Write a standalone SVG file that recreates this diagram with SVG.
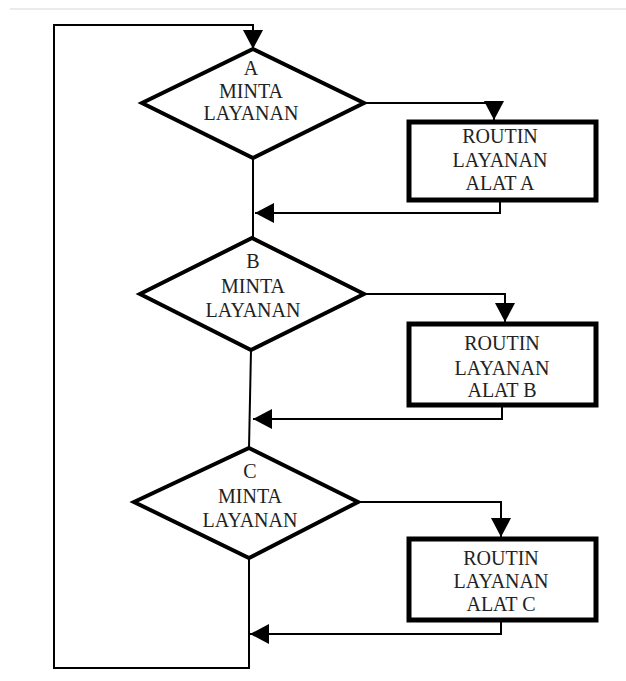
<svg xmlns="http://www.w3.org/2000/svg" width="626" height="681" viewBox="0 0 626 681">
  <style>
    .bg { fill: #ffffff; }
    .frame { stroke: #e4e4e4; stroke-width: 1.5; fill: none; }
    .decision { fill: #ffffff; stroke: #000000; stroke-width: 4; stroke-linejoin: miter; }
    .process { fill: #ffffff; stroke: #000000; stroke-width: 5; }
    .conn { fill: none; stroke: #000000; stroke-width: 2; }
    .lbl { font-family: "Liberation Serif", "Times New Roman", serif; font-size: 20px; fill: #222222; text-anchor: middle; }
  </style>
  <defs>
    <marker id="arrow" markerUnits="userSpaceOnUse" markerWidth="20" markerHeight="20" refX="19" refY="10" orient="auto">
      <path d="M0,0 L19,10 L0,20 Z" fill="#000000"/>
    </marker>
  </defs>

  <rect class="bg" x="0" y="0" width="626" height="681"/>
  <line class="frame" x1="10" y1="9" x2="626" y2="9"/>

  <!-- connectors -->
  <g id="connectors">
    <!-- loop back from the last decision to the first -->
    <path class="conn" d="M249,558 V668 H54 V25 H253 V49" marker-end="url(#arrow)"/>
    <path class="conn" d="M253,158 V238"/>
    <path class="conn" d="M251,350 L249,448"/>
    <!-- decision A to routine A and back -->
    <path class="conn" d="M365,103 H494 V120" marker-end="url(#arrow)"/>
    <path class="conn" d="M500,202 V213 H255" marker-end="url(#arrow)"/>
    <!-- decision B to routine B and back -->
    <path class="conn" d="M365,294 H505 V322" marker-end="url(#arrow)"/>
    <path class="conn" d="M502,407 V419 H253" marker-end="url(#arrow)"/>
    <!-- decision C to routine C and back -->
    <path class="conn" d="M358,502 H501 V537" marker-end="url(#arrow)"/>
    <path class="conn" d="M501,622 V634 H250" marker-end="url(#arrow)"/>
  </g>

  <!-- decision A -->
  <g id="decisionA">
    <polygon class="decision" points="253,49 364,103 253,158 142,103"/>
    <text class="lbl" x="251" y="75">A</text>
    <text class="lbl" x="251" y="98">MINTA</text>
    <text class="lbl" x="251" y="120">LAYANAN</text>
  </g>

  <!-- routine A -->
  <g id="routineA">
    <rect class="process" x="409" y="122" width="187" height="78"/>
    <text class="lbl" x="500" y="143">ROUTIN</text>
    <text class="lbl" x="500" y="167">LAYANAN</text>
    <text class="lbl" x="500" y="190">ALAT A</text>
  </g>

  <!-- decision B -->
  <g id="decisionB">
    <polygon class="decision" points="252,238 364,294 251,350 140,294"/>
    <text class="lbl" x="253" y="268">B</text>
    <text class="lbl" x="253" y="293">MINTA</text>
    <text class="lbl" x="253" y="317">LAYANAN</text>
  </g>

  <!-- routine B -->
  <g id="routineB">
    <rect class="process" x="409" y="324" width="187" height="81"/>
    <text class="lbl" x="502" y="350">ROUTIN</text>
    <text class="lbl" x="502" y="375">LAYANAN</text>
    <text class="lbl" x="502" y="397">ALAT B</text>
  </g>

  <!-- decision C -->
  <g id="decisionC">
    <polygon class="decision" points="249,448 358,502 249,558 134,502"/>
    <text class="lbl" x="250" y="478">C</text>
    <text class="lbl" x="250" y="503">MINTA</text>
    <text class="lbl" x="250" y="527">LAYANAN</text>
  </g>

  <!-- routine C -->
  <g id="routineC">
    <rect class="process" x="409" y="539" width="187" height="81"/>
    <text class="lbl" x="501" y="565">ROUTIN</text>
    <text class="lbl" x="501" y="588">LAYANAN</text>
    <text class="lbl" x="501" y="611">ALAT C</text>
  </g>
</svg>
